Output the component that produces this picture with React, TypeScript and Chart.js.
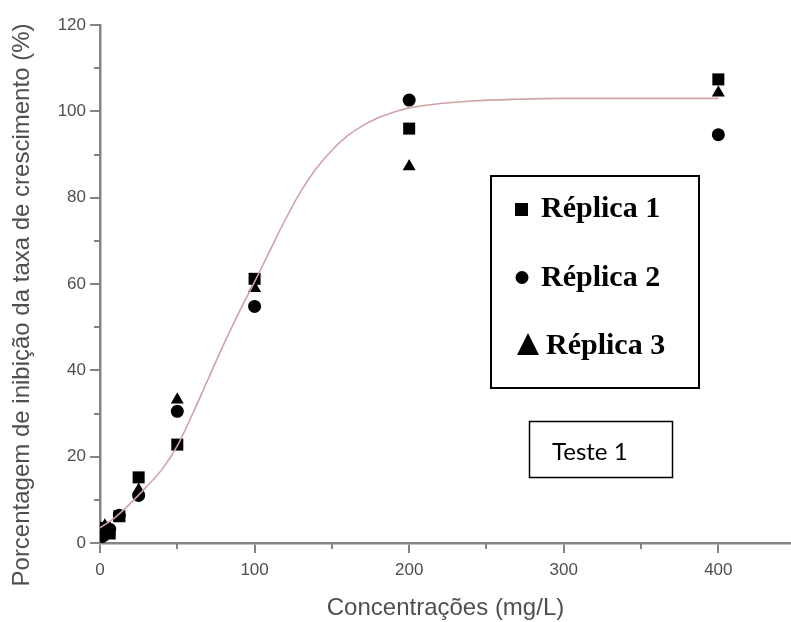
import React, { useEffect, useRef } from 'react';
import { Chart, registerables } from 'chart.js';

Chart.register(...registerables);

// ---- data ----
const concentrations = [1.56, 3.125, 6.25, 12.5, 25, 50, 100, 200, 400];
const replica1 = [2.0, 3.5, 2.2, 6.2, 15.2, 22.8, 61.2, 96.0, 107.4];
const replica2 = [1.5, 3.0, 3.2, 6.4, 11.0, 30.5, 54.8, 102.6, 94.6];
const replica3 = [2.5, 4.0, 2.8, 6.0, 12.3, 33.2, 59.0, 87.2, 104.3];

// fitted curve
const fitX = [0, 10, 20, 30, 40, 50, 60, 70, 80, 90, 100, 110, 120, 130, 140, 150, 160, 170, 180, 190, 200, 220, 240, 270, 300, 350, 400];
const fitY = [3.5, 6, 9.3, 13, 17, 22.5, 30, 38, 46, 53.5, 60.5, 67.8, 75, 81.5, 86.8, 91, 94.3, 96.7, 98.5, 99.8, 100.8, 101.8, 102.4, 102.8, 103, 103, 103];

const xMajorStep = 100;
const yMajorStep = 20;
const xMinorTicks = [50, 150, 250, 350];
const yMinorTicks = [10, 30, 50, 70, 90, 110];

const legendLabels = ['Réplica 1', 'Réplica 2', 'Réplica 3'];
const noteLabel = 'Teste 1';
const xTitle = 'Concentrações (mg/L)';
const yTitle = 'Porcentagem de inibição da taxa de crescimento (%)';

const AXIS_COLOR = '#858585';
const TEXT_COLOR = '#4f4f4f';
const CURVE_COLOR = '#cfa3a6';

function pts(xs: number[], ys: number[]) {
  return xs.map((x, i) => ({ x, y: ys[i] }));
}

export default function App() {
  const ref = useRef<HTMLCanvasElement>(null);

  useEffect(() => {
    const canvas = ref.current!;
    const decor = {
      id: 'decor',
      afterDraw(chart: any) {
        const ctx = chart.ctx as CanvasRenderingContext2D;
        const xs = chart.scales.x;
        const ys = chart.scales.y;
        ctx.save();
        // minor ticks
        ctx.strokeStyle = AXIS_COLOR;
        ctx.lineWidth = 2;
        ctx.beginPath();
        for (const v of xMinorTicks) {
          const px = Math.round(xs.getPixelForValue(v));
          ctx.moveTo(px, xs.top);
          ctx.lineTo(px, xs.top + 6);
        }
        for (const v of yMinorTicks) {
          const py = Math.round(ys.getPixelForValue(v));
          ctx.moveTo(ys.right, py);
          ctx.lineTo(ys.right - 6, py);
        }
        ctx.stroke();
        ctx.restore();

        // y axis title
        ctx.save();
        ctx.fillStyle = TEXT_COLOR;
        ctx.font = '24px "Liberation Sans", Arial, sans-serif';
        ctx.translate(22, 305);
        ctx.rotate(-Math.PI / 2);
        ctx.textAlign = 'center';
        ctx.textBaseline = 'middle';
        ctx.fillText(yTitle, 0, 0);
        ctx.restore();

        // legend box
        ctx.save();
        ctx.strokeStyle = '#000';
        ctx.lineWidth = 2;
        ctx.strokeRect(491, 176, 208, 212);
        ctx.fillStyle = '#000';
        ctx.fillRect(515, 203, 13, 13);
        ctx.beginPath();
        ctx.arc(522, 277.5, 6.5, 0, Math.PI * 2);
        ctx.fill();
        ctx.beginPath();
        ctx.moveTo(517, 355);
        ctx.lineTo(539, 355);
        ctx.lineTo(528, 333);
        ctx.closePath();
        ctx.fill();
        ctx.font = 'bold 30px "Liberation Serif", "Times New Roman", serif';
        ctx.textAlign = 'left';
        ctx.textBaseline = 'alphabetic';
        ctx.fillText(legendLabels[0], 541, 217);
        ctx.fillText(legendLabels[1], 541, 286);
        ctx.fillText(legendLabels[2], 546, 354);

        // note box
        ctx.lineWidth = 1.5;
        ctx.strokeRect(529.5, 421.5, 143, 56);
        ctx.font = '24px Lato, "Open Sans", sans-serif';
        ctx.fillText(noteLabel, 552, 460);
        ctx.restore();
      },
    };

    const chart = new Chart(canvas, {
      type: 'scatter',
      data: {
        datasets: [
          {
            label: 'Ajuste',
            type: 'line',
            data: pts(fitX, fitY),
            borderColor: CURVE_COLOR,
            borderWidth: 1.6,
            pointRadius: 0,
            fill: false,
            cubicInterpolationMode: 'monotone',
            order: 0,
          } as any,
          {
            label: legendLabels[0],
            data: pts(concentrations, replica1),
            pointStyle: 'rect',
            pointRadius: 8.5,
            backgroundColor: '#000',
            borderColor: '#000',
            borderWidth: 0,
            order: 1,
          },
          {
            label: legendLabels[1],
            data: pts(concentrations, replica2),
            pointStyle: 'circle',
            pointRadius: 6.5,
            backgroundColor: '#000',
            borderColor: '#000',
            borderWidth: 0,
            order: 2,
          },
          {
            label: legendLabels[2],
            data: pts(concentrations, replica3),
            pointStyle: 'triangle',
            pointRadius: 7.5,
            backgroundColor: '#000',
            borderColor: '#000',
            borderWidth: 0,
            order: 3,
          },
        ],
      },
      options: {
        animation: false,
        responsive: false,
        layout: { autoPadding: false, padding: { top: 25, right: 0, left: 0, bottom: 0 } },
        plugins: {
          legend: { display: false },
          tooltip: { enabled: false },
        },
        scales: {
          x: {
            type: 'linear',
            min: 0,
            max: 447,
            border: { display: true, color: AXIS_COLOR, width: 2.5 },
            grid: {
              drawOnChartArea: false,
              drawTicks: true,
              tickLength: 10,
              color: AXIS_COLOR,
              lineWidth: 2,
            },
            ticks: {
              stepSize: xMajorStep,
              includeBounds: false,
              color: TEXT_COLOR,
              padding: 7,
              maxRotation: 0,
              font: { family: '"Liberation Sans", Arial, sans-serif', size: 17 },
            },
            title: {
              display: true,
              text: xTitle,
              color: TEXT_COLOR,
              padding: { top: 0, bottom: 0 },
              font: { family: '"Liberation Sans", Arial, sans-serif', size: 24, lineHeight: 1.1 },
            },
            afterFit(scale: any) {
              scale.height = 79;
              scale.paddingRight = 0;
              scale.paddingLeft = 0;
            },
          },
          y: {
            type: 'linear',
            min: 0,
            max: 120,
            border: { display: true, color: AXIS_COLOR, width: 2.5 },
            grid: {
              drawOnChartArea: false,
              drawTicks: true,
              tickLength: 10,
              color: AXIS_COLOR,
              lineWidth: 2,
            },
            ticks: {
              stepSize: yMajorStep,
              color: TEXT_COLOR,
              padding: 4,
              font: { family: '"Liberation Sans", Arial, sans-serif', size: 17 },
            },
            afterFit(scale: any) {
              scale.width = 100;
            },
          },
        },
      },
      plugins: [decor],
    });
    return () => chart.destroy();
  }, []);

  return (
    <div style={{ position: 'absolute', left: 0, top: 0, width: 791, height: 622, background: '#fff' }}>
      <canvas ref={ref} width={791} height={622} style={{ display: 'block' }} />
    </div>
  );
}
